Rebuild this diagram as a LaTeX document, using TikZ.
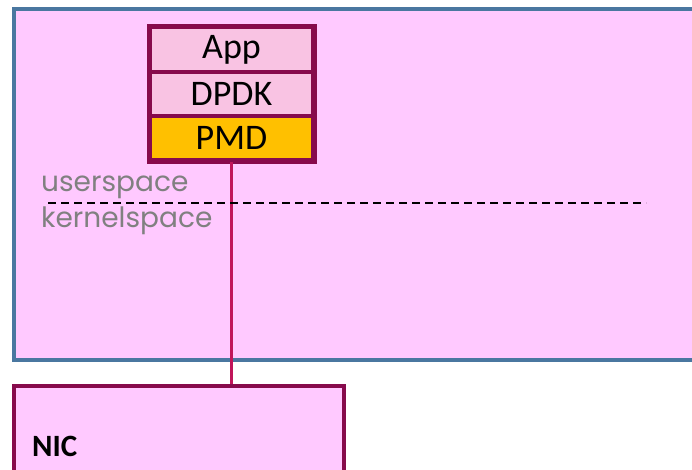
\documentclass[tikz,border=0pt]{standalone}
\usepackage{fontspec}
\setmainfont{Carlito}
\newfontfamily\gothic{Poppins}
\definecolor{bgpink}{HTML}{FFC9FF}
\definecolor{boxblue}{HTML}{4A77A0}
\definecolor{maroon}{HTML}{870A4C}
\definecolor{lightpink}{HTML}{F9C3E3}
\definecolor{amber}{HTML}{FFC000}
\definecolor{wire}{HTML}{C0155A}
\definecolor{lbl}{HTML}{808080}
\begin{document}
\begin{tikzpicture}[x=1pt,y=-1pt,
  layer/.style={draw=maroon,line width=3.5pt,minimum width=163pt,minimum height=44pt,inner sep=0pt,font=\fontsize{36}{38}\selectfont},
  spacelbl/.style={anchor=west,text=lbl,inner sep=0pt,font=\gothic\fontsize{28}{30}\selectfont}]
\useasboundingbox (0,0) rectangle (692,469);
\begin{scope}
\clip (0,0) rectangle (692,469);
\node[draw=boxblue,fill=bgpink,line width=3.5pt,minimum width=720pt,minimum height=351pt,anchor=north west,inner sep=0pt] (host) at (12,7) {};
\node[draw=maroon,fill=bgpink,line width=3.5pt,minimum width=330pt,minimum height=100pt,anchor=north west,inner sep=0pt] (nic) at (12,384) {};
\end{scope}
\node[anchor=base west,inner sep=0pt,font=\bfseries\fontsize{31}{33}\selectfont] (niclbl) at (32,456) {NIC};
\node[layer,fill=lightpink] (app) at (231.5,49.5) {App};
\node[layer,fill=lightpink] (dpdk) at (231.5,94) {DPDK};
\node[layer,fill=amber] (pmd) at (231.5,138) {PMD};
\draw[draw=maroon,line width=3.5pt] (app.north west) rectangle (pmd.south east);
\draw[wire,line width=3.2pt] (pmd.south) -- (pmd.south |- nic.north);
\coordinate (dl) at (48,203);
\coordinate (dr) at (646,203);
\draw[black,line width=1.8pt,dash pattern=on 8pt off 5pt] (dl) -- (dr);
\node[spacelbl] (us) at (41,187) {userspace};
\node[spacelbl] (ks) at (41,221) {kernelspace};
\end{tikzpicture}
\end{document}
